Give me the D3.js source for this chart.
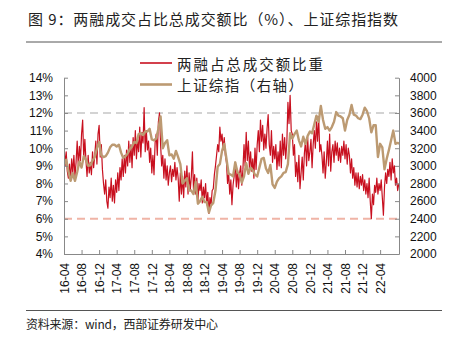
<!DOCTYPE html>
<html><head><meta charset="utf-8">
<script src="https://cdn.jsdelivr.net/npm/d3@7"></script>
<style>body{margin:0;background:#fff}svg{display:block}</style>
</head><body><svg id="c" width="452" height="340"></svg>
<script>
// Tick labels (every 4 months from 2016-04)
const tickLabels = ["16-04","16-08","16-12","17-04","17-08","17-12","18-04","18-08","18-12","19-04","19-08","19-12","20-04","20-08","20-12","21-04","21-08","21-12","22-04"];
const leftTicks = [4,5,6,7,8,9,10,11,12,13,14];
const rightTicks = [2000,2200,2400,2600,2800,3000,3200,3400,3600,3800,4000];
const seriesNames = ["两融占总成交额比重","上证综指（右轴）"];
// 两融占总成交额比重 (%), 4 readings per month from 2016-04
const marginShare = [
10.2,9.0,9.8,8.7, 8.3,9.1,8.2,9.4, 8.6,9.6,8.4,9.2, 10.4,9.0,10.1,9.3,
10.8,11.6,9.4,10.5, 9.3,8.4,9.6,8.6, 9.2,8.5,9.8,8.9, 9.6,10.4,9.1,10.8,
11.3,9.5,10.2,8.8, 8.0,7.4,8.2,7.0, 6.6,7.8,7.2,8.3, 7.0,7.9,6.9,8.2,
7.5,8.6,7.6,8.9, 8.2,9.4,8.4,9.6, 8.6,9.9,9.0,10.4, 9.2,10.2,8.9,10.6,
9.6,11.0,9.4,10.5, 9.8,11.2,9.5,10.9, 10.3,12.3,9.8,11.0, 9.9,10.4,9.2,10.0,
8.6,9.6,8.5,10.3, 10.8,9.6,11.5,12.0, 10.2,9.0,9.6,8.3, 9.4,8.2,9.0,7.9,
8.6,9.0,8.1,8.8, 8.4,9.2,8.2,8.9, 8.3,7.0,8.6,7.4, 8.4,7.2,8.7,7.8,
9.0,7.4,8.6,7.6, 8.4,9.8,7.6,8.5, 7.4,8.3,7.0,8.0, 7.6,8.2,6.9,7.8,
7.2,8.0,6.8,7.5, 6.3,7.2,6.8,7.6, 7.7,8.5,9.0,9.6, 10.2,9.8,11.2,10.4,
10.8,9.9,10.6,9.6, 9.2,8.0,8.6,7.4, 8.2,6.8,7.9,8.4, 9.2,7.8,8.8,7.7,
8.6,9.0,7.9,8.8, 10.2,9.0,10.9,9.3, 10.4,8.8,9.8,8.7, 9.4,8.3,10.0,8.8,
10.2,11.0,9.8,11.6, 10.4,11.3,9.9,10.8, 10.0,11.1,11.9,10.2, 9.6,11.0,9.2,10.1,
9.4,10.2,8.8,9.8, 9.0,10.4,8.9,10.8, 9.6,10.6,9.4,10.3, 12.6,11.4,13.0,11.0,
10.8,9.6,10.2,8.4, 9.2,8.1,9.6,7.7, 8.6,9.5,8.2,9.7, 10.4,9.0,10.6,9.3,
9.8,10.5,8.9,10.2, 11.0,10.0,11.5,10.4, 11.8,9.8,10.2,9.6, 8.6,9.8,8.3,9.2,
10.4,9.0,10.8,8.7, 9.8,10.2,9.2,10.4, 9.6,10.3,9.3,10.0, 9.2,10.1,9.6,10.4,
9.4,10.2,9.1,10.0, 9.6,8.6,9.4,8.3, 8.9,7.9,8.6,7.8, 8.6,7.7,8.4,7.9,
8.5,7.6,8.2,7.4, 8.0,7.2,8.3,7.0, 6.0,7.4,6.8,7.9, 7.5,8.3,7.4,8.0,
7.6,8.2,7.2,6.2, 7.8,8.6,8.0,8.8, 8.4,9.2,8.2,9.4, 8.6,9.0,7.9,8.3,
7.6,8.0
];
// 上证综指, 2 readings per month from 2016-04
const sseIndex = [
3010,3070, 2940,2830, 2915,2830, 2930,3050, 2980,3110, 3070,3000, 3005,3060, 3100,3200, 3270,3120,
3100,3110, 3150,3210, 3240,3240, 3220,3240, 3150,3090, 3110,3140, 3190,3220, 3270,3260, 3360,3370, 3350,3390, 3390,3420, 3300,3290,
3310,3420, 3560,3200, 3260,3290, 3120,3130, 3080,3170, 3100,3020, 2800,2830, 2860,2720, 2720,2680, 2820,2570, 2600,2650, 2590,2590,
2470,2550, 2580,2720, 2990,3020, 3170,3250, 3080,2910, 2900,2880, 3040,2930, 2900,2810, 2880,3030, 2910,2980, 2950,2900, 2880,2980,
3080,3090, 2970,2920, 3010,2790, 2750,2820, 2860,2880, 2920,2930, 3020,3370, 3310,3360, 3400,3290, 3220,3330, 3250,3340, 3390,3370,
3470,3570, 3500,3680, 3520,3420, 3440,3400, 3440,3500, 3610,3570, 3560,3540, 3400,3520, 3580,3690, 3580,3570, 3540,3530, 3580,3660,
3620,3540, 3380,3460, 3460,3100, 3250,3210, 2960,3080, 3180,3290, 3400,3250, 3260,3250
];

const svg = d3.select("#c");
const L = 64, R = 399, T = 77.7, B = 254;
const x = d3.scaleLinear().domain([0, 76.3]).range([L, R]);
const yL = d3.scaleLinear().domain([4, 14]).range([B, T]);
const yR = d3.scaleLinear().domain([2000, 4000]).range([B, T]);
const red = "#c8101f", tan = "#bc9a72";
const cjk = "'Noto Sans CJK SC','Noto Sans CJK JP',sans-serif";
const lat = "'Liberation Sans',Arial,sans-serif";

// title
svg.append("text").attr("x", 28).attr("y", 18).attr("dominant-baseline","central")
  .attr("font-family", cjk).attr("font-size", 15).attr("fill", "#222")
  .attr("textLength", 370).attr("lengthAdjust", "spacing")
  .text("图 9：两融成交占比总成交额比（%）、上证综指指数");
svg.append("line").attr("x1",26).attr("x2",442).attr("y1",42).attr("y2",42).attr("stroke","#555").attr("stroke-width",1);
svg.append("line").attr("x1",26).attr("x2",442).attr("y1",310.5).attr("y2",310.5).attr("stroke","#555").attr("stroke-width",1);
svg.append("text").attr("x", 26).attr("y", 323.5).attr("dominant-baseline","central")
  .attr("font-family", cjk).attr("font-size", 12).attr("fill", "#222")
  .attr("textLength", 192).attr("lengthAdjust", "spacing")
  .text("资料来源：wind，西部证券研发中心");

// reference dashed lines
svg.append("line").attr("x1",L).attr("x2",R).attr("y1",yL(12)).attr("y2",yL(12))
  .attr("stroke","#d3d3d3").attr("stroke-width",2).attr("stroke-dasharray","8,5");
svg.append("line").attr("x1",L).attr("x2",R).attr("y1",yL(6)).attr("y2",yL(6))
  .attr("stroke","#f0b4a6").attr("stroke-width",2).attr("stroke-dasharray","8,5");

svg.append("clipPath").attr("id","clip").append("rect").attr("x",L).attr("y",T-20).attr("width",R-L).attr("height",B-T+20);

const redLine = d3.line().x((d,i)=>x(i/4)).y(d=>yL(d));
const tanLine = d3.line().x((d,i)=>x(i/2)).y(d=>yR(d));
const g = svg.append("g").attr("clip-path","url(#clip)");
g.append("path").datum(marginShare).attr("d", redLine).attr("fill","none").attr("stroke",red).attr("stroke-width",1.2).attr("stroke-linejoin","round");
g.append("path").datum(sseIndex).attr("d", tanLine).attr("fill","none").attr("stroke",tan).attr("stroke-width",2.4).attr("stroke-linejoin","round");

// axes
const axisColor = "#888";
const ax = svg.append("g").attr("transform",`translate(0,${B})`)
  .call(d3.axisBottom(x).tickValues(tickLabels.map((d,i)=>i*4)).tickFormat((d,i)=>tickLabels[i]).tickSizeInner(-4).tickSizeOuter(0));
ax.selectAll("text").attr("transform","rotate(-90)").attr("x",-9).attr("y",0).attr("dy","0.35em")
  .style("text-anchor","end").attr("font-family",lat).attr("font-size",12).attr("fill","#111");
const al = svg.append("g").attr("transform",`translate(${L},0)`)
  .call(d3.axisLeft(yL).tickValues(leftTicks).tickFormat(d=>d+"%").tickSizeInner(-4).tickSizeOuter(0).tickPadding(11));
al.selectAll("text").attr("font-family",lat).attr("font-size",12).attr("fill","#111");
const ar = svg.append("g").attr("transform",`translate(${R},0)`)
  .call(d3.axisRight(yR).tickValues(rightTicks).tickFormat(d3.format("d")).tickSizeInner(-4).tickSizeOuter(0).tickPadding(11));
ar.selectAll("text").attr("font-family",lat).attr("font-size",12).attr("fill","#111");
[ax,al,ar].forEach(a=>{a.select(".domain").attr("stroke",axisColor); a.selectAll(".tick line").attr("stroke",axisColor);});

// legend
const leg = [{n:seriesNames[0],c:red,w:1.6,y:63,len:146},{n:seriesNames[1],c:tan,w:2.6,y:84.5,len:126}];
leg.forEach(l=>{
  svg.append("line").attr("x1",140).attr("x2",172).attr("y1",l.y).attr("y2",l.y).attr("stroke",l.c).attr("stroke-width",l.w);
  svg.append("text").attr("x",177).attr("y",l.y).attr("dominant-baseline","central")
    .attr("font-family",cjk).attr("font-size",14.5).attr("fill","#222")
    .attr("textLength",l.len).attr("lengthAdjust","spacing").text(l.n);
});
</script></body></html>
